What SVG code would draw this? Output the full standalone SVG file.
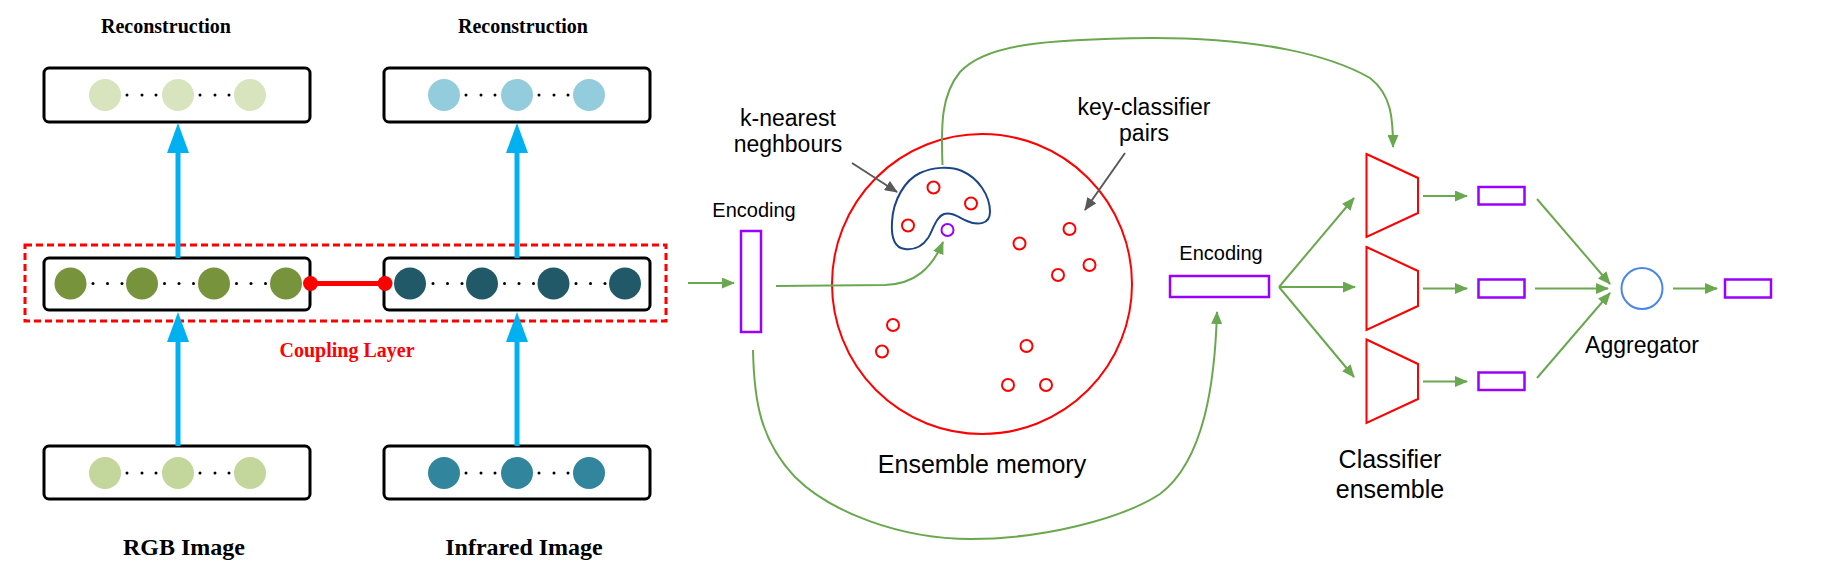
<svg xmlns="http://www.w3.org/2000/svg" width="1828" height="578" viewBox="0 0 1828 578">
<style>
.box{fill:#fff;stroke:#000;stroke-width:3}
.ser{font-family:"Liberation Serif","Times New Roman",serif;font-weight:bold;text-anchor:middle;fill:#000}
.sans{font-family:"Liberation Sans",Arial,sans-serif;text-anchor:middle;fill:#000}
.dot{fill:#000}
.g{fill:none;stroke:#6aa84f;stroke-width:2}
.gray{fill:none;stroke:#595959;stroke-width:2}
.blue{stroke:#00b0f0;stroke-width:5}
.pur{fill:#fff;stroke:#9900ff;stroke-width:2.5}
.rc{fill:#fff;stroke:#ff0000;stroke-width:2}
.trap{fill:#fff;stroke:#ff0000;stroke-width:2}
</style>
<defs>
<marker id="ag" markerUnits="userSpaceOnUse" markerWidth="13" markerHeight="11" viewBox="0 0 13 11" refX="12" refY="5.5" orient="auto"><path d="M0,0 L13,5.5 L0,11 z" fill="#6aa84f"/></marker>
<marker id="agr" markerUnits="userSpaceOnUse" markerWidth="13" markerHeight="11" viewBox="0 0 13 11" refX="12" refY="5.5" orient="auto"><path d="M0,0 L13,5.5 L0,11 z" fill="#595959"/></marker>
<marker id="ab" markerUnits="userSpaceOnUse" markerWidth="30" markerHeight="22" viewBox="0 0 30 22" refX="0" refY="11" orient="auto"><path d="M0,0 L30,11 L0,22 z" fill="#00b0f0"/></marker>
</defs>

<g id="coupling-layer">
<rect x="25" y="245" width="641" height="76" fill="none" stroke="#ff0000" stroke-width="3" stroke-dasharray="7 4"/>
<text class="ser" x="347" y="357" font-size="20" fill="#ff0000" style="fill:#ff0000">Coupling Layer</text>
</g>

<g id="rgb-recon">
<rect class="box" x="44" y="68" width="266" height="54" rx="5"/>
<circle cx="105" cy="95" r="16" fill="#d7e4bd"/><circle cx="178" cy="95" r="16" fill="#d7e4bd"/><circle cx="250" cy="95" r="16" fill="#d7e4bd"/>
<g class="dot"><circle cx="127" cy="95" r="1.5"/><circle cx="142" cy="95" r="1.5"/><circle cx="156" cy="95" r="1.5"/><circle cx="200" cy="95" r="1.5"/><circle cx="215" cy="95" r="1.5"/><circle cx="229" cy="95" r="1.5"/></g>
<text class="ser" x="166" y="33" font-size="20">Reconstruction</text>
</g>

<g id="ir-recon">
<rect class="box" x="384" y="68" width="266" height="54" rx="5"/>
<circle cx="444" cy="95" r="16" fill="#93cddd"/><circle cx="517" cy="95" r="16" fill="#93cddd"/><circle cx="589" cy="95" r="16" fill="#93cddd"/>
<g class="dot"><circle cx="466" cy="95" r="1.5"/><circle cx="481" cy="95" r="1.5"/><circle cx="495" cy="95" r="1.5"/><circle cx="539" cy="95" r="1.5"/><circle cx="554" cy="95" r="1.5"/><circle cx="568" cy="95" r="1.5"/></g>
<text class="ser" x="523" y="33" font-size="20">Reconstruction</text>
</g>

<g id="rgb-latent">
<rect class="box" x="44" y="258" width="266" height="52" rx="5"/>
<circle cx="70.5" cy="283.5" r="16" fill="#77933c"/><circle cx="142" cy="283.5" r="16" fill="#77933c"/><circle cx="214" cy="283.5" r="16" fill="#77933c"/><circle cx="286" cy="283.5" r="16" fill="#77933c"/>
<g class="dot"><circle cx="93" cy="283.5" r="1.5"/><circle cx="107.5" cy="283.5" r="1.5"/><circle cx="122" cy="283.5" r="1.5"/><circle cx="164.5" cy="283.5" r="1.5"/><circle cx="179" cy="283.5" r="1.5"/><circle cx="193.5" cy="283.5" r="1.5"/><circle cx="236.5" cy="283.5" r="1.5"/><circle cx="251" cy="283.5" r="1.5"/><circle cx="265.5" cy="283.5" r="1.5"/></g>
</g>

<g id="ir-latent">
<rect class="box" x="384" y="258" width="266" height="52" rx="5"/>
<circle cx="410" cy="283.5" r="16" fill="#215968"/><circle cx="482" cy="283.5" r="16" fill="#215968"/><circle cx="553.5" cy="283.5" r="16" fill="#215968"/><circle cx="625" cy="283.5" r="16" fill="#215968"/>
<g class="dot"><circle cx="433" cy="283.5" r="1.5"/><circle cx="447.5" cy="283.5" r="1.5"/><circle cx="462" cy="283.5" r="1.5"/><circle cx="504.5" cy="283.5" r="1.5"/><circle cx="519" cy="283.5" r="1.5"/><circle cx="533.5" cy="283.5" r="1.5"/><circle cx="576" cy="283.5" r="1.5"/><circle cx="590.5" cy="283.5" r="1.5"/><circle cx="605" cy="283.5" r="1.5"/></g>
</g>

<g id="rgb-image">
<rect class="box" x="44" y="446" width="266" height="53" rx="5"/>
<circle cx="105" cy="473" r="16" fill="#c3d69b"/><circle cx="178" cy="473" r="16" fill="#c3d69b"/><circle cx="250" cy="473" r="16" fill="#c3d69b"/>
<g class="dot"><circle cx="127" cy="473" r="1.5"/><circle cx="142" cy="473" r="1.5"/><circle cx="156" cy="473" r="1.5"/><circle cx="200" cy="473" r="1.5"/><circle cx="215" cy="473" r="1.5"/><circle cx="229" cy="473" r="1.5"/></g>
<text class="ser" x="184" y="555" font-size="24">RGB Image</text>
</g>

<g id="ir-image">
<rect class="box" x="384" y="446" width="266" height="53" rx="5"/>
<circle cx="444" cy="473" r="16" fill="#31859c"/><circle cx="517" cy="473" r="16" fill="#31859c"/><circle cx="589" cy="473" r="16" fill="#31859c"/>
<g class="dot"><circle cx="466" cy="473" r="1.5"/><circle cx="481" cy="473" r="1.5"/><circle cx="495" cy="473" r="1.5"/><circle cx="539" cy="473" r="1.5"/><circle cx="554" cy="473" r="1.5"/><circle cx="568" cy="473" r="1.5"/></g>
<text class="ser" x="524" y="555" font-size="24">Infrared Image</text>
</g>

<g id="encoding-1">
<rect class="pur" x="741" y="231" width="20" height="101"/>
<text class="sans" x="754" y="217" font-size="20">Encoding</text>
</g>

<g id="ensemble-memory">
<circle cx="982" cy="284" r="150" fill="none" stroke="#ff0000" stroke-width="2"/>
<path d="M892,222 C893,200 905,180 920,173 C933,167 950,166 962,171 C978,178 990,195 990,212 C990,224 978,226 967,221 C958,217 952,212 944,214 C936,217 933,230 928,238 C922,247 914,250 905,249 C895,248 891,238 892,222 Z" fill="none" stroke="#1c4587" stroke-width="2"/>
<circle class="rc" cx="933.5" cy="187.5" r="6"/>
<circle class="rc" cx="971" cy="203.5" r="6"/>
<circle class="rc" cx="908" cy="225.5" r="6"/>
<circle cx="947.5" cy="230" r="6" fill="#fff" stroke="#9900ff" stroke-width="2"/>
<circle class="rc" cx="1019.5" cy="243.5" r="6"/>
<circle class="rc" cx="1069.5" cy="229" r="6"/>
<circle class="rc" cx="1089.5" cy="265" r="6"/>
<circle class="rc" cx="1058" cy="275" r="6"/>
<circle class="rc" cx="893" cy="325" r="6"/>
<circle class="rc" cx="882" cy="351.5" r="6"/>
<circle class="rc" cx="1026.5" cy="346" r="6"/>
<circle class="rc" cx="1008" cy="385" r="6"/>
<circle class="rc" cx="1046" cy="385" r="6"/>
<text class="sans" x="982" y="473" font-size="25">Ensemble memory</text>
</g>

<g id="knn-label">
<text class="sans" x="788" y="126" font-size="23">k-nearest</text>
<text class="sans" x="788" y="152" font-size="23">neghbours</text>
</g>

<g id="pairs-label">
<text class="sans" x="1144" y="115" font-size="23">key-classifier</text>
<text class="sans" x="1144" y="141" font-size="23">pairs</text>
</g>

<g id="encoding-2">
<rect class="pur" x="1170" y="276" width="99" height="21"/>
<text class="sans" x="1221" y="260" font-size="20">Encoding</text>
</g>

<g id="classifier-ensemble">
<polygon class="trap" points="1366.5,154 1418,178 1418,213 1366.5,237"/>
<polygon class="trap" points="1366.5,247 1418,271 1418,306 1366.5,330"/>
<polygon class="trap" points="1366.5,339.5 1418,364 1418,399 1366.5,423"/>
<text class="sans" x="1390" y="468" font-size="25">Classifier</text>
<text class="sans" x="1390" y="498" font-size="25">ensemble</text>
</g>

<g id="outputs">
<rect class="pur" x="1478.5" y="187" width="46" height="17.5"/>
<rect class="pur" x="1478.5" y="279.5" width="46" height="18"/>
<rect class="pur" x="1478.5" y="372.5" width="46" height="17.5"/>
</g>

<g id="aggregator">
<circle cx="1642" cy="288.5" r="20.5" fill="#fff" stroke="#4a86e8" stroke-width="2"/>
<text class="sans" x="1642" y="353" font-size="23">Aggregator</text>
</g>

<g id="final-output">
<rect class="pur" x="1725" y="279.5" width="46" height="18"/>
</g>

<g id="connectors">
<line class="blue" x1="178" y1="258" x2="178" y2="153" marker-end="url(#ab)"/>
<line class="blue" x1="517" y1="258" x2="517" y2="153" marker-end="url(#ab)"/>
<line class="blue" x1="178" y1="446" x2="178" y2="342" marker-end="url(#ab)"/>
<line class="blue" x1="517" y1="446" x2="517" y2="342" marker-end="url(#ab)"/>
<line x1="310" y1="283.5" x2="385" y2="283.5" stroke="#ff0000" stroke-width="5"/>
<circle cx="310.5" cy="283.5" r="7.5" fill="#ff0000"/>
<circle cx="385" cy="283.5" r="7.5" fill="#ff0000"/>

<line class="g" x1="688" y1="283" x2="734" y2="283" marker-end="url(#ag)"/>
<path class="g" d="M776,286 L885,285 C915,284 932,268 943,242" marker-end="url(#ag)"/>
<path class="g" d="M942.5,165 C941,125 941,95 960,72 C985,45 1040,39 1153,38 C1260,38 1330,55 1370,78 C1392,95 1393,120 1393,147" marker-end="url(#ag)"/>
<path class="g" d="M753,350 C754,400 760,440 795,477 C830,512 900,539 971,539 C1040,539 1120,520 1160,494 C1205,460 1215,380 1217,312" marker-end="url(#ag)"/>
<line class="gray" x1="852" y1="163" x2="897" y2="192" marker-end="url(#agr)"/>
<line class="gray" x1="1125" y1="153" x2="1085" y2="210" marker-end="url(#agr)"/>

<line class="g" x1="1279" y1="287" x2="1354" y2="198" marker-end="url(#ag)"/>
<line class="g" x1="1279" y1="287" x2="1355" y2="287" marker-end="url(#ag)"/>
<line class="g" x1="1279" y1="287" x2="1354" y2="377" marker-end="url(#ag)"/>
<line class="g" x1="1423" y1="196" x2="1467" y2="196" marker-end="url(#ag)"/>
<line class="g" x1="1423" y1="288.5" x2="1467" y2="288.5" marker-end="url(#ag)"/>
<line class="g" x1="1423" y1="381.5" x2="1467" y2="381.5" marker-end="url(#ag)"/>
<line class="g" x1="1537" y1="199" x2="1610" y2="284" marker-end="url(#ag)"/>
<line class="g" x1="1535" y1="288.5" x2="1608" y2="288.5" marker-end="url(#ag)"/>
<line class="g" x1="1537" y1="378" x2="1610" y2="293" marker-end="url(#ag)"/>
<line class="g" x1="1673" y1="288.5" x2="1717" y2="288.5" marker-end="url(#ag)"/>
</g>
</svg>
